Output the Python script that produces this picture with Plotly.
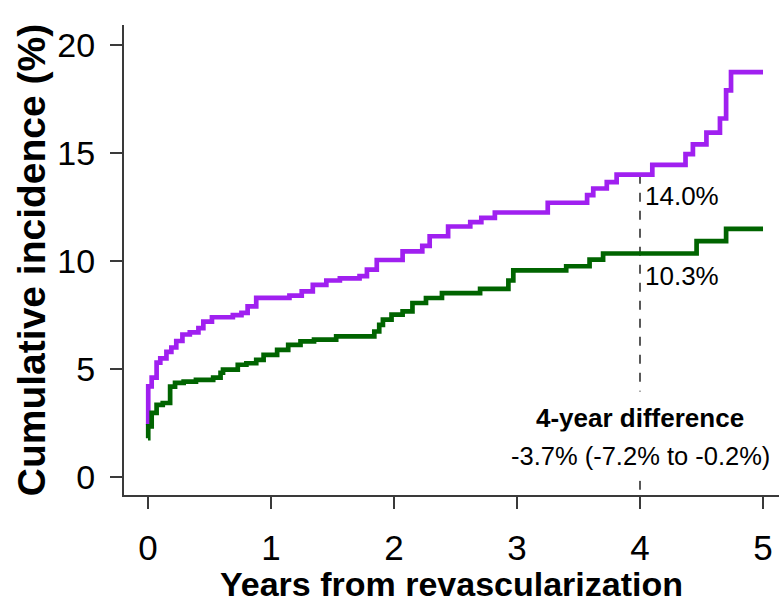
import plotly.graph_objects as go

# Purple (upper) curve: step times (years) and cumulative incidence (%)
purple_t = [0.0, 0.002, 0.03, 0.07, 0.10, 0.15, 0.19, 0.23, 0.28, 0.34, 0.41, 0.45, 0.52,
            0.69, 0.76, 0.81, 0.88, 1.15, 1.25, 1.34, 1.45, 1.56, 1.72, 1.78, 1.86, 2.07,
            2.23, 2.29, 2.44, 2.62, 2.71, 2.82, 3.25, 3.57, 3.62, 3.73, 3.81, 4.10, 4.37,
            4.43, 4.54, 4.65, 4.70, 4.74, 5.0]
purple_y = [2.4, 4.2, 4.6, 5.3, 5.5, 5.8, 6.0, 6.3, 6.6, 6.7, 6.9, 7.2, 7.4,
            7.5, 7.6, 7.9, 8.3, 8.4, 8.6, 8.9, 9.1, 9.2, 9.3, 9.6, 10.05, 10.45,
            10.7, 11.15, 11.6, 11.8, 12.0, 12.25, 12.7, 13.05, 13.36, 13.66, 14.0, 14.45, 14.95,
            15.4, 15.95, 16.6, 17.9, 18.75, 18.75]

# Green (lower) curve
green_t = [0.0, 0.002, 0.03, 0.07, 0.12, 0.18, 0.22, 0.29, 0.39, 0.53, 0.59, 0.61, 0.73,
           0.80, 0.88, 0.94, 1.05, 1.14, 1.24, 1.35, 1.53, 1.84, 1.88, 1.91, 1.98, 2.07,
           2.15, 2.26, 2.39, 2.70, 2.93, 2.97, 3.40, 3.59, 3.70, 4.46, 4.70, 5.0]
green_y = [1.8, 2.35, 2.97, 3.34, 3.43, 4.19, 4.36, 4.42, 4.5, 4.6, 4.83, 4.97, 5.2,
           5.27, 5.43, 5.66, 5.89, 6.12, 6.28, 6.36, 6.51, 6.74, 7.05, 7.29, 7.52, 7.67,
           8.06, 8.29, 8.52, 8.71, 9.1, 9.57, 9.76, 10.07, 10.35, 10.92, 11.49, 11.49]

x_ticks = [0, 1, 2, 3, 4, 5]
y_ticks = [0, 5, 10, 15, 20]

mark_year = 4
purple_at_mark = 14.0
green_at_mark = 10.3
label_purple = "14.0%"
label_green = "10.3%"
diff_title = "4-year difference"
diff_text = "-3.7% (-7.2% to -0.2%)"

PURPLE = "#a020f0"
GREEN = "#006400"
FONT = "Liberation Sans, Arial, sans-serif"
AXIS = "#3a3a3a"

fig = go.Figure()
fig.add_trace(go.Scatter(x=purple_t, y=purple_y, mode="lines", line_shape="hv",
                         line=dict(color=PURPLE, width=4.7), showlegend=False))
fig.add_trace(go.Scatter(x=green_t, y=green_y, mode="lines", line_shape="hv",
                         line=dict(color=GREEN, width=4.7), showlegend=False))

x_range = [-0.195, 5.13]
y_range = [-0.83, 20.93]
fig.add_shape(type="line", x0=mark_year, x1=mark_year, y0=purple_at_mark, y1=y_range[0],
              line=dict(color="black", width=1.3, dash="dash"), layer="below")

fig.add_annotation(x=mark_year, y=purple_at_mark, text=label_purple, showarrow=False,
                   xanchor="left", yanchor="top", xshift=3, yshift=-4,
                   font=dict(family=FONT, size=26, color="black"))
fig.add_annotation(x=mark_year, y=green_at_mark, text=label_green, showarrow=False,
                   xanchor="left", yanchor="top", xshift=3, yshift=-4,
                   font=dict(family=FONT, size=26, color="black"))
fig.add_annotation(x=mark_year, y=2.74, text="<b>" + diff_title + "</b>", showarrow=False,
                   xanchor="center", yanchor="middle", bgcolor="white", borderpad=11,
                   font=dict(family=FONT, size=26, color="black"))
fig.add_annotation(x=mark_year, y=0.97, text=diff_text, showarrow=False,
                   xanchor="center", yanchor="middle", bgcolor="white", borderpad=10,
                   font=dict(family=FONT, size=25.5, color="black"))

fig.update_layout(
    width=779, height=603,
    margin=dict(l=124, r=0, t=25, b=108),
    paper_bgcolor="white", plot_bgcolor="white",
    xaxis=dict(range=x_range, tickvals=x_ticks, ticktext=[str(v) for v in x_ticks],
               showgrid=False, zeroline=False, showline=True, linecolor=AXIS, linewidth=2,
               ticks="outside", ticklen=12, tickwidth=1.5, tickcolor=AXIS,
               ticklabelstandoff=9, automargin=False,
               tickfont=dict(family=FONT, size=35, color="black"),
               title=dict(text="<b>Years from revascularization</b>",
                          font=dict(family=FONT, size=34, color="black"), standoff=4)),
    yaxis=dict(range=y_range, tickvals=y_ticks, ticktext=[str(v) for v in y_ticks],
               showgrid=False, zeroline=False, showline=True, linecolor=AXIS, linewidth=2,
               ticks="outside", ticklen=12, tickwidth=1.5, tickcolor=AXIS,
               ticklabelstandoff=8, automargin=False,
               tickfont=dict(family=FONT, size=34, color="black"),
               title=dict(text="<b>Cumulative incidence (%)</b>",
                          font=dict(family=FONT, size=39, color="black"), standoff=0)),
)

fig.write_html("out.html", config={"displayModeBar": False},
               post_script="document.body.style.margin='0px';document.body.style.overflow='hidden';")
